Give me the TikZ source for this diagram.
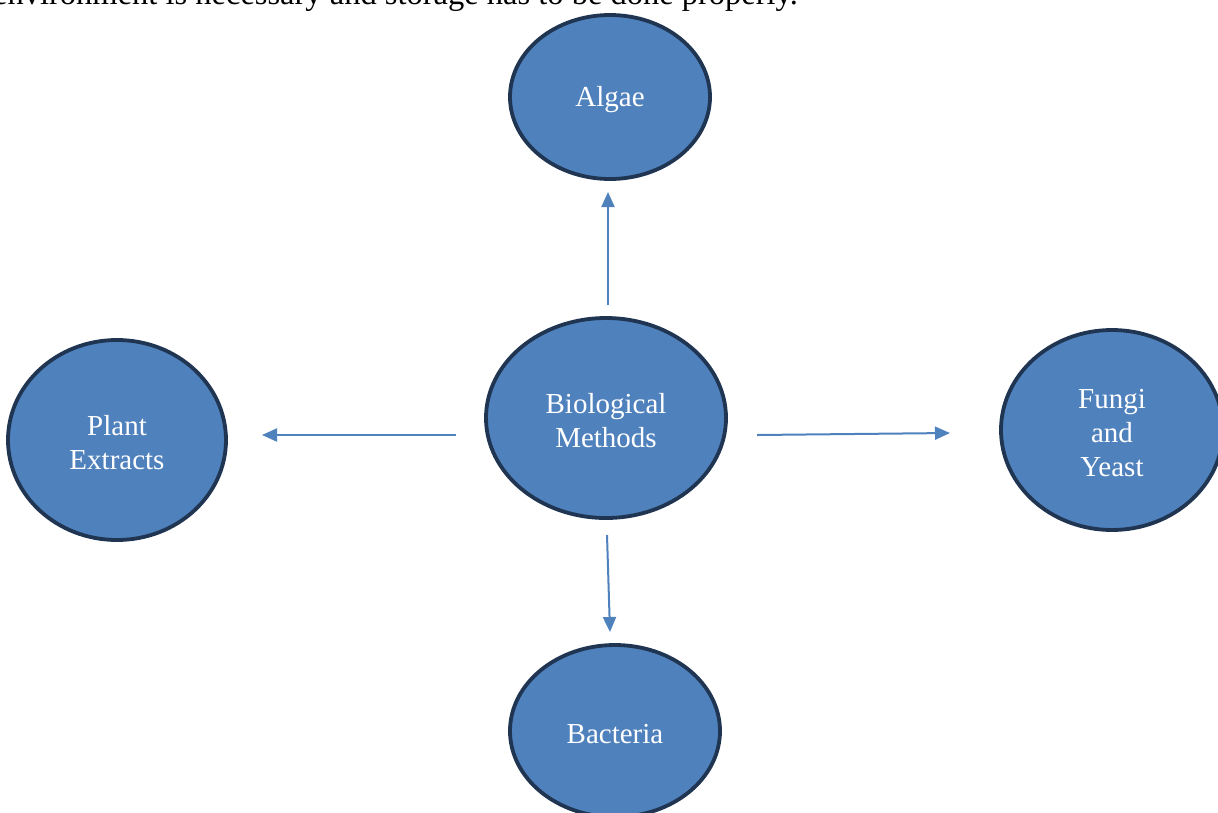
\documentclass[tikz,border=0pt]{standalone}
\usepackage{fontspec}
\setmainfont{Liberation Serif}
\usetikzlibrary{shapes.geometric,arrows.meta}
\definecolor{fillblue}{HTML}{4F81BD}
\definecolor{edgenavy}{HTML}{1F3552}
\begin{document}
\begin{tikzpicture}[x=1pt,y=-1pt,
  circ/.style={ellipse,draw=edgenavy,fill=fillblue,line width=3.8pt,text=white,
    font=\fontsize{29}{34}\selectfont,align=center,inner sep=0pt},
  lbl/.style={text=white,font=\fontsize{29}{34}\selectfont,align=center,inner sep=0pt,yshift=-3pt},
  conn/.style={draw=fillblue,line width=2pt,-{Triangle[length=15pt,width=13pt]}}]
\useasboundingbox (0,0) rectangle (1218,812);
\clip (0,0) rectangle (1218,812);
\fill[white] (0,0) rectangle (1218,812);
\node[anchor=base west,inner sep=0pt,font=\fontsize{32.5}{38}\selectfont] (top) at (-7,4) {environment is necessary and storage has to be done properly.};
\node[circ,minimum width=200pt,minimum height=164pt,label={[lbl]center:Algae}] (algae) at (610,97) {};
\node[circ,minimum width=240pt,minimum height=200pt,label={[lbl]center:Biological\\Methods}] (bio) at (606,418) {};
\node[circ,minimum width=218pt,minimum height=200pt,label={[lbl]center:Plant\\Extracts}] (plant) at (117,440) {};
\node[circ,minimum width=222pt,minimum height=200pt,label={[lbl]center:Fungi\\and\\Yeast}] (fungi) at (1112,430) {};
\node[circ,minimum width=210pt,minimum height=172pt,label={[lbl]center:Bacteria}] (bact) at (615,731) {};
\coordinate (u1) at (608,305); \coordinate (u2) at (608,192);
\coordinate (l1) at (456,435); \coordinate (l2) at (262,435);
\coordinate (r1) at (757,435); \coordinate (r2) at (950,433);
\coordinate (d1) at (607,535); \coordinate (d2) at (610,632);
\draw[conn] (u1) -- (u2);
\draw[conn] (l1) -- (l2);
\draw[conn] (r1) -- (r2);
\draw[conn] (d1) -- (d2);
\end{tikzpicture}
\end{document}
